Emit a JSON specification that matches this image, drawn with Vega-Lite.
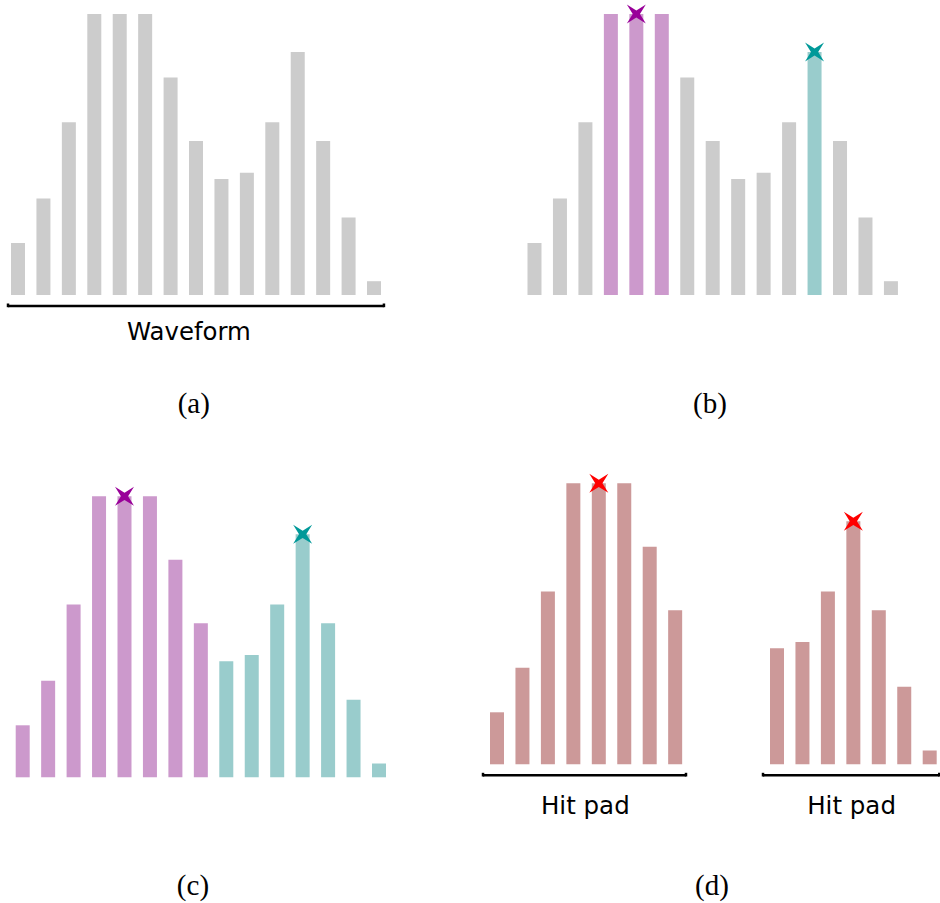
{
  "$schema": "https://vega.github.io/schema/vega-lite/v6.json",
  "padding": 0,
  "spacing": 0,
  "config": {"view": {"stroke": null}},
  "datasets": {
    "wave": [
      {"i": 1, "v": 52},
      {"i": 2, "v": 96.5},
      {"i": 3, "v": 172.7},
      {"i": 4, "v": 281},
      {"i": 5, "v": 281},
      {"i": 6, "v": 281},
      {"i": 7, "v": 217.5},
      {"i": 8, "v": 154},
      {"i": 9, "v": 116},
      {"i": 10, "v": 122.3},
      {"i": 11, "v": 172.7},
      {"i": 12, "v": 243},
      {"i": 13, "v": 154},
      {"i": 14, "v": 77.5},
      {"i": 15, "v": 13.8}
    ]
  },
  "resolve": {"scale": {"x": "independent", "y": "independent"}},
  "vconcat": [
    {
      "spacing": 0,
      "resolve": {"scale": {"x": "independent", "y": "independent"}},
      "hconcat": [
        {
          "width": 470,
          "height": 450,
          "layer": [
            {
              "data": {"name": "wave"},
              "mark": {"type": "bar", "width": 14, "color": "#cccccc"},
              "encoding": {
                "x": {"field": "i", "type": "quantitative", "axis": null, "scale": {"domain": [0.292, 18.774], "nice": false, "zero": false, "padding": 0}},
                "y": {"field": "v", "type": "quantitative", "axis": null, "scale": {"domain": [-155, 295], "nice": false, "zero": false, "padding": 0}}
              }
            },
            {
              "data": {"values": [{}]},
              "mark": {"type": "rule", "strokeWidth": 2.5, "color": "black"},
              "encoding": {
                "x": {"datum": 0.607, "type": "quantitative"},
                "x2": {"datum": 15.39},
                "y": {"datum": -11, "type": "quantitative"}
              }
            },
            {
              "data": {"values": [{"e": 0.607}, {"e": 15.39}]},
              "mark": {"type": "rule", "strokeWidth": 2.5, "color": "black"},
              "encoding": {
                "x": {"field": "e", "type": "quantitative"},
                "y": {"datum": -12.2, "type": "quantitative"},
                "y2": {"datum": -8.5}
              }
            },
            {
              "data": {"values": [{}]},
              "mark": {"type": "text", "text": "Waveform", "font": "DejaVu Sans", "fontSize": 24.4, "baseline": "alphabetic", "align": "center", "color": "black"},
              "encoding": {
                "x": {"datum": 7.72, "type": "quantitative"},
                "y": {"datum": -44.5, "type": "quantitative"}
              }
            },
            {
              "data": {"values": [{}]},
              "mark": {"type": "text", "text": "(a)", "font": "Liberation Serif", "fontSize": 29, "baseline": "alphabetic", "align": "center", "color": "black"},
              "encoding": {
                "x": {"datum": 7.91, "type": "quantitative"},
                "y": {"datum": -118.2, "type": "quantitative"}
              }
            }
          ]
        },
        {
          "width": 470,
          "height": 450,
          "layer": [
            {
              "data": {"name": "wave"},
              "mark": {"type": "bar", "width": 14},
              "encoding": {
                "x": {"field": "i", "type": "quantitative", "axis": null, "scale": {"domain": [-1.533, 16.927], "nice": false, "zero": false, "padding": 0}},
                "y": {"field": "v", "type": "quantitative", "axis": null, "scale": {"domain": [-155, 295], "nice": false, "zero": false, "padding": 0}},
                "color": {
                  "condition": [
                    {"test": "datum.i >= 4 && datum.i <= 6", "value": "#cc99cc"},
                    {"test": "datum.i == 12", "value": "#99cccc"}
                  ],
                  "value": "#cccccc"
                }
              }
            },
            {
              "data": {"name": "wave"},
              "transform": [{"filter": "datum.i == 5 || datum.i == 12"}],
              "mark": {"type": "point", "shape": "M-1,-1L0,-0.38L1,-1L0.38,0L1,1L0,0.38L-1,1L-0.38,0Z", "filled": true, "size": 361, "opacity": 1, "strokeWidth": 0},
              "encoding": {
                "x": {"field": "i", "type": "quantitative"},
                "y": {"field": "v", "type": "quantitative"},
                "color": {"condition": {"test": "datum.i == 5", "value": "#990099"}, "value": "#009999"}
              }
            },
            {
              "data": {"values": [{}]},
              "mark": {"type": "text", "text": "(b)", "font": "Liberation Serif", "fontSize": 29, "baseline": "alphabetic", "align": "center", "color": "black"},
              "encoding": {
                "x": {"datum": 7.89, "type": "quantitative"},
                "y": {"datum": -118.2, "type": "quantitative"}
              }
            }
          ]
        }
      ]
    },
    {
      "spacing": 0,
      "resolve": {"scale": {"x": "independent", "y": "independent"}},
      "hconcat": [
        {
          "width": 470,
          "height": 453,
          "layer": [
            {
              "data": {"name": "wave"},
              "mark": {"type": "bar", "width": 14},
              "encoding": {
                "x": {"field": "i", "type": "quantitative", "axis": null, "scale": {"domain": [0.108, 18.576], "nice": false, "zero": false, "padding": 0}},
                "y": {"field": "v", "type": "quantitative", "axis": null, "scale": {"domain": [-125.7, 327.3], "nice": false, "zero": false, "padding": 0}},
                "color": {"condition": {"test": "datum.i <= 8", "value": "#cc99cc"}, "value": "#99cccc"}
              }
            },
            {
              "data": {"name": "wave"},
              "transform": [{"filter": "datum.i == 5 || datum.i == 12"}],
              "mark": {"type": "point", "shape": "M-1,-1L0,-0.38L1,-1L0.38,0L1,1L0,0.38L-1,1L-0.38,0Z", "filled": true, "size": 361, "opacity": 1, "strokeWidth": 0},
              "encoding": {
                "x": {"field": "i", "type": "quantitative"},
                "y": {"field": "v", "type": "quantitative"},
                "color": {"condition": {"test": "datum.i == 5", "value": "#990099"}, "value": "#009999"}
              }
            },
            {
              "data": {"values": [{}]},
              "mark": {"type": "text", "text": "(c)", "font": "Liberation Serif", "fontSize": 29, "baseline": "alphabetic", "align": "center", "color": "black"},
              "encoding": {
                "x": {"datum": 7.69, "type": "quantitative"},
                "y": {"datum": -117.7, "type": "quantitative"}
              }
            }
          ]
        },
        {
          "width": 270,
          "height": 453,
          "layer": [
            {
              "data": {"name": "wave"},
              "transform": [{"filter": "datum.i <= 8"}],
              "mark": {"type": "bar", "width": 14, "color": "#cc9999"},
              "encoding": {
                "x": {"field": "i", "type": "quantitative", "axis": null, "scale": {"domain": [-0.061, 10.548], "nice": false, "zero": false, "padding": 0}},
                "y": {"field": "v", "type": "quantitative", "axis": null, "scale": {"domain": [-138.7, 314.3], "nice": false, "zero": false, "padding": 0}}
              }
            },
            {
              "data": {"name": "wave"},
              "transform": [{"filter": "datum.i == 5"}],
              "mark": {"type": "point", "shape": "M-1,-1L0,-0.38L1,-1L0.38,0L1,1L0,0.38L-1,1L-0.38,0Z", "filled": true, "size": 361, "opacity": 1, "strokeWidth": 0, "color": "#ff0000"},
              "encoding": {
                "x": {"field": "i", "type": "quantitative"},
                "y": {"field": "v", "type": "quantitative"}
              }
            },
            {
              "data": {"values": [{}]},
              "mark": {"type": "rule", "strokeWidth": 2.5, "color": "black"},
              "encoding": {
                "x": {"datum": 0.45, "type": "quantitative"},
                "x2": {"datum": 8.426},
                "y": {"datum": -11, "type": "quantitative"}
              }
            },
            {
              "data": {"values": [{"e": 0.45}, {"e": 8.426}]},
              "mark": {"type": "rule", "strokeWidth": 2.5, "color": "black"},
              "encoding": {
                "x": {"field": "e", "type": "quantitative"},
                "y": {"datum": -12.2, "type": "quantitative"},
                "y2": {"datum": -8.5}
              }
            },
            {
              "data": {"values": [{}]},
              "mark": {"type": "text", "text": "Hit pad", "font": "DejaVu Sans", "fontSize": 24.5, "baseline": "alphabetic", "align": "center", "color": "black"},
              "encoding": {
                "x": {"datum": 4.47, "type": "quantitative"},
                "y": {"datum": -50, "type": "quantitative"}
              }
            },
            {
              "data": {"values": [{}]},
              "mark": {"type": "text", "text": "(d)", "font": "Liberation Serif", "fontSize": 29, "baseline": "alphabetic", "align": "center", "color": "black"},
              "encoding": {
                "x": {"datum": 9.448, "type": "quantitative"},
                "y": {"datum": -130.7, "type": "quantitative"}
              }
            }
          ]
        },
        {
          "width": 200,
          "height": 453,
          "layer": [
            {
              "data": {"name": "wave"},
              "transform": [{"filter": "datum.i >= 9"}],
              "mark": {"type": "bar", "width": 14, "color": "#cc9999"},
              "encoding": {
                "x": {"field": "i", "type": "quantitative", "axis": null, "scale": {"domain": [7.546, 15.405], "nice": false, "zero": false, "padding": 0}},
                "y": {"field": "v", "type": "quantitative", "axis": null, "scale": {"domain": [-138.7, 314.3], "nice": false, "zero": false, "padding": 0}}
              }
            },
            {
              "data": {"name": "wave"},
              "transform": [{"filter": "datum.i == 12"}],
              "mark": {"type": "point", "shape": "M-1,-1L0,-0.38L1,-1L0.38,0L1,1L0,0.38L-1,1L-0.38,0Z", "filled": true, "size": 361, "opacity": 1, "strokeWidth": 0, "color": "#ff0000"},
              "encoding": {
                "x": {"field": "i", "type": "quantitative"},
                "y": {"field": "v", "type": "quantitative"}
              }
            },
            {
              "data": {"values": [{}]},
              "mark": {"type": "rule", "strokeWidth": 2.5, "color": "black"},
              "encoding": {
                "x": {"datum": 8.45, "type": "quantitative"},
                "x2": {"datum": 15.377},
                "y": {"datum": -11, "type": "quantitative"}
              }
            },
            {
              "data": {"values": [{"e": 8.45}, {"e": 15.377}]},
              "mark": {"type": "rule", "strokeWidth": 2.5, "color": "black"},
              "encoding": {
                "x": {"field": "e", "type": "quantitative"},
                "y": {"datum": -12.2, "type": "quantitative"},
                "y2": {"datum": -8.5}
              }
            },
            {
              "data": {"values": [{}]},
              "mark": {"type": "text", "text": "Hit pad", "font": "DejaVu Sans", "fontSize": 24.5, "baseline": "alphabetic", "align": "center", "color": "black"},
              "encoding": {
                "x": {"datum": 11.93, "type": "quantitative"},
                "y": {"datum": -50, "type": "quantitative"}
              }
            }
          ]
        }
      ]
    }
  ]
}
